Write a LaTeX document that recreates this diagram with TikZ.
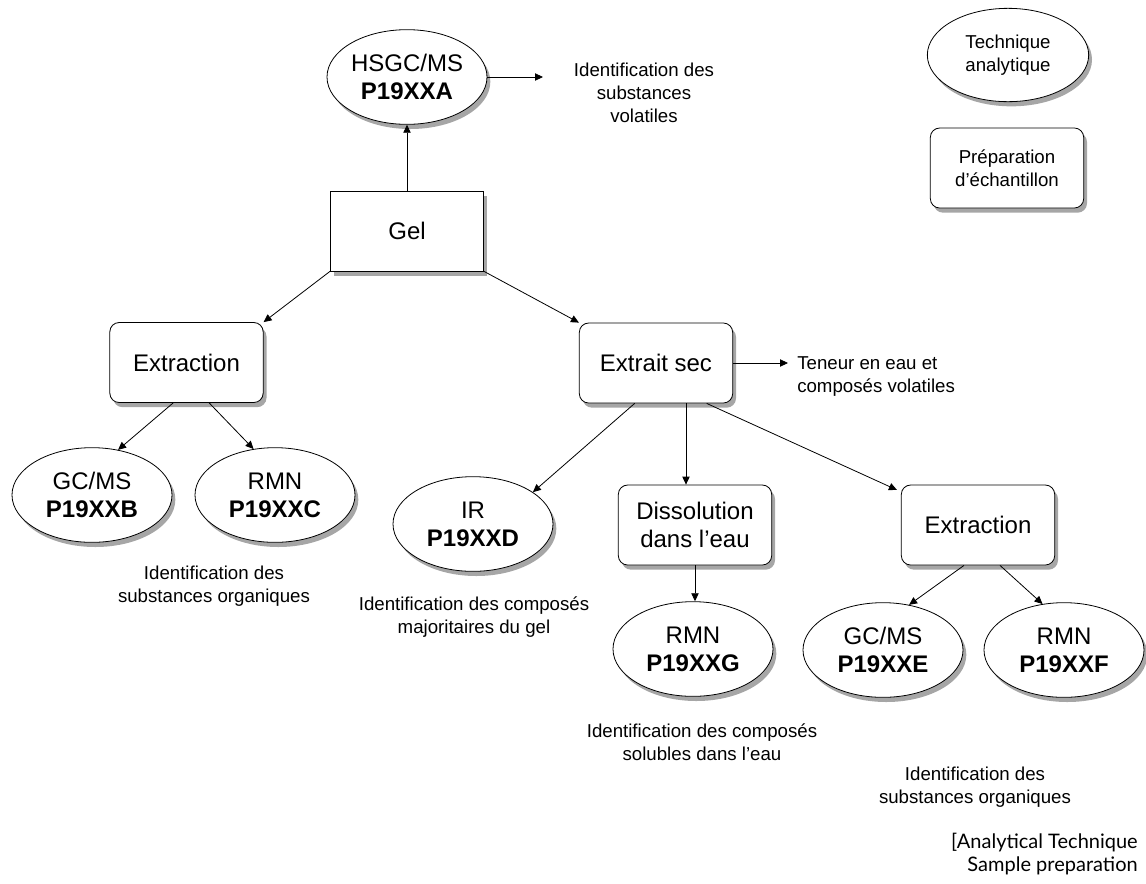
\documentclass[tikz,border=0pt]{standalone}
\usepackage{fontspec}
\setmainfont{Liberation Sans}
\newfontfamily\gillfont{Lato}
\usetikzlibrary{shapes.geometric,shadows,arrows.meta}
\begin{document}
\begin{tikzpicture}[x=0.75pt,y=-0.75pt,
  big/.style={font=\fontsize{18}{21}\selectfont, align=center},
  small/.style={font=\fontsize{14}{17.25}\selectfont, align=center},
  shade/.style={drop shadow={shadow xshift=2.5pt,shadow yshift=-3.5pt,fill=black!35,opacity=1}},
  tech/.style={ellipse, draw, line width=0.6pt, fill=white, shade, minimum width=120pt, minimum height=71pt, inner sep=0pt},
  prep/.style={rectangle, rounded corners=7pt, draw, line width=0.6pt, fill=white, shade, minimum width=115pt, minimum height=60pt, inner sep=0pt},
  sqbox/.style={rectangle, draw, line width=0.6pt, fill=white, shade, minimum width=115pt, minimum height=60pt, inner sep=0pt},
  lbl/.style={small, inner sep=0pt},
  arr/.style={line width=0.6pt, -{Triangle[length=6pt,width=5.5pt]}}
]
\useasboundingbox (0,0) rectangle (1146,883);

% nodes
\node[tech, big] (hsgc) at (407,77) {HSGC/MS\\\textbf{P19XXA}};
\node[sqbox, big] (gel) at (407,231) {Gel};
\node[prep, big] (ext1) at (186.5,362.5) {Extraction};
\node[prep, big] (extsec) at (656,363) {Extrait sec};
\node[tech, big] (gcB) at (92,495) {GC/MS\\\textbf{P19XXB}};
\node[tech, big] (rmnC) at (275,495) {RMN\\\textbf{P19XXC}};
\node[tech, big] (ir) at (473,524) {IR\\\textbf{P19XXD}};
\node[prep, big] (diss) at (695,525) {Dissolution\\dans l’eau};
\node[prep, big] (ext2) at (978,525) {Extraction};
\node[tech, big] (rmnG) at (693,649) {RMN\\\textbf{P19XXG}};
\node[tech, big] (gcE) at (883,650) {GC/MS\\\textbf{P19XXE}};
\node[tech, big] (rmnF) at (1064,650) {RMN\\\textbf{P19XXF}};

% legend
\node[tech, small, minimum width=121pt, minimum height=70pt] (legT) at (1008,55) {Technique\\analytique};
\node[prep, small] (legP) at (1007,168) {Préparation\\d’échantillon};

% labels
\node[lbl] (tvol) at (644,93) {Identification des\\substances\\volatiles};
\node[lbl, align=left, anchor=west] (tten) at (797,377) {Teneur en eau et\\composés volatiles};
\node[lbl] (torg1) at (214,586) {Identification des\\substances organiques};
\node[lbl] (tmaj) at (474,617) {Identification des composés\\majoritaires du gel};
\node[lbl] (tsol) at (702,742) {Identification des composés\\solubles dans l’eau};
\node[lbl] (torg2) at (975,787) {Identification des\\substances organiques};
\node[font=\gillfont\fontsize{15}{17.25}\selectfont, align=right, anchor=east, inner sep=0pt] (note) at (1138,854) {[Analytical Technique\\Sample preparation};

% connectors
\coordinate (aA) at (543,77);
\coordinate (aT) at (788,363);
\draw[arr] (gel.north) -- (hsgc.south);
\draw[arr] (hsgc.east) -- (aA);
\draw[arr] (gel.south west) -- (ext1.north east);
\draw[arr] (gel.south east) -- (extsec.north west);
\draw[arr] (extsec.east) -- (aT);
\draw[arr] ([xshift=-10pt]ext1.south) -- (gcB.60);
\draw[arr] ([xshift=17pt]ext1.south) -- (rmnC.115);
\draw[arr] ([xshift=-16pt]extsec.south) -- (ir.28);
\draw[arr] ([xshift=22.5pt]extsec.south) -- ([xshift=22.5pt]extsec.south |- diss.north);
\draw[arr] (diss.south) -- (diss.south |- rmnG.north);
\draw[arr] ([xshift=38pt]extsec.south) -- ([xshift=-3pt,yshift=-4pt]ext2.north west);
\draw[arr] ([xshift=-10.5pt]ext2.south) -- (gcE.60);
\draw[arr] ([xshift=16.5pt]ext2.south) -- (rmnF.115);
\end{tikzpicture}
\end{document}
